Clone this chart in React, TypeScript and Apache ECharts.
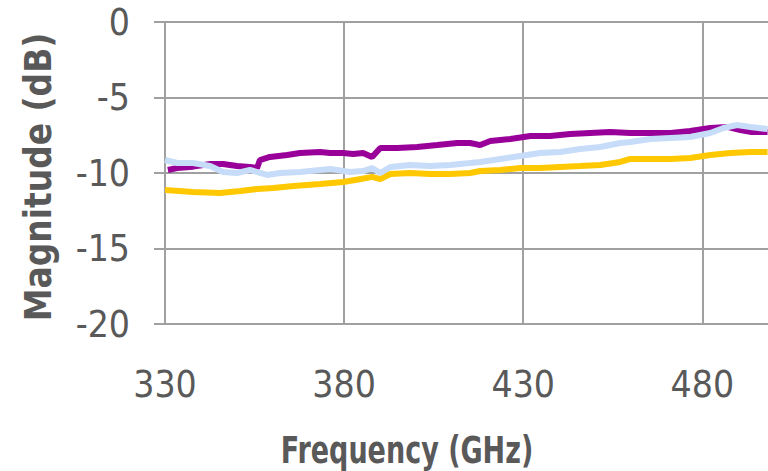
import React, { useEffect, useRef } from "react";
import * as echarts from "echarts";

const xTickLabels = [330, 380, 430, 480];
const yTickLabels = [0, -5, -10, -15, -20];

const purpleFreq = [330.8, 333.4, 337.8, 342.6, 346.2, 350.1, 353.7, 355.7, 356.5, 359.3, 364.1, 367.7, 373.3, 376.1, 379.7, 382.5, 385.3, 387.8, 390.1, 394.8, 400.4, 406.0, 411.6, 415.2, 418.0, 420.8, 426.4, 432.0, 437.5, 443.1, 448.7, 454.3, 459.9, 465.5, 471.1, 476.6, 482.2, 487.0, 490.6, 493.4, 498.2];
const purpleDb = [-9.8, -9.67, -9.58, -9.4, -9.4, -9.54, -9.6, -9.67, -9.14, -8.94, -8.81, -8.68, -8.61, -8.68, -8.68, -8.74, -8.68, -8.94, -8.34, -8.34, -8.28, -8.15, -8.01, -8.01, -8.15, -7.88, -7.75, -7.55, -7.55, -7.42, -7.35, -7.28, -7.35, -7.35, -7.35, -7.22, -7.02, -6.95, -7.15, -7.28, -7.28];

const blueFreq = [330, 333.4, 337.8, 342.6, 346.2, 350.1, 353.7, 358.5, 362.1, 367.7, 373.3, 376.1, 381.7, 385.3, 387.8, 390.1, 392.9, 398.4, 404.0, 409.6, 415.2, 418.0, 423.6, 429.2, 434.7, 440.3, 445.9, 451.5, 457.1, 459.9, 465.5, 471.1, 476.6, 482.2, 485.9, 489.7, 493.4, 498.2];
const blueDb = [-9.14, -9.34, -9.34, -9.54, -9.93, -10.0, -9.8, -10.13, -10.0, -9.93, -9.8, -9.74, -9.93, -9.87, -9.67, -10.0, -9.6, -9.47, -9.54, -9.47, -9.34, -9.27, -9.07, -8.87, -8.68, -8.61, -8.41, -8.28, -8.01, -7.95, -7.75, -7.68, -7.62, -7.35, -7.02, -6.82, -6.95, -7.09];

const yellowFreq = [330, 337.8, 345.4, 351.0, 355.7, 360.2, 365.9, 373.3, 379.7, 384.7, 387.8, 390.1, 392.9, 398.4, 404.0, 409.6, 415.2, 418.0, 423.6, 429.2, 434.7, 440.3, 445.9, 451.5, 457.1, 459.9, 465.5, 471.1, 476.6, 482.2, 487.8, 493.4, 498.2];
const yellowDb = [-11.13, -11.26, -11.32, -11.19, -11.06, -10.99, -10.86, -10.73, -10.6, -10.4, -10.26, -10.4, -10.07, -10.0, -10.07, -10.07, -10.0, -9.87, -9.8, -9.67, -9.67, -9.6, -9.54, -9.47, -9.27, -9.07, -9.07, -9.07, -9.01, -8.81, -8.68, -8.61, -8.61];

const zip = (xs: number[], ys: number[]) => xs.map((x, i) => [x, ys[i]]);

const TEXT = "#595959";
const GRID = "#a0a0a0";
const LABEL_FONT = "'Liberation Sans Narrow', 'DejaVu Sans Condensed', sans-serif";

export default function App() {
  const ref = useRef<HTMLDivElement>(null);
  useEffect(() => {
    document.body.style.margin = "0";
    if (!ref.current) return;
    const chart = echarts.init(ref.current, null, { renderer: "svg" });
    chart.setOption({
      animation: false,
      backgroundColor: "#ffffff",
      grid: { left: 165, top: 22, height: 302, width: 609, containLabel: false, outerBoundsMode: "none" },
      xAxis: {
        type: "value",
        min: 330,
        max: 500,
        interval: 50,
        axisLine: { show: true, lineStyle: { color: GRID, width: 2 } },
        axisTick: { show: true, inside: false, length: 12, lineStyle: { color: GRID, width: 2 } },
        splitLine: { show: true, lineStyle: { color: GRID, width: 2 } },
        axisLabel: {
          margin: 42,
          color: TEXT,
          fontFamily: LABEL_FONT,
          fontSize: 37,
          formatter: (v: number) => (xTickLabels.includes(v) ? String(v) : ""),
        },
      },
      yAxis: {
        type: "value",
        min: -20,
        max: 0,
        interval: 5,
        axisLine: { show: true, lineStyle: { color: GRID, width: 2 } },
        axisTick: { show: true, inside: false, length: 11, lineStyle: { color: GRID, width: 2 } },
        splitLine: { show: true, lineStyle: { color: GRID, width: 2 } },
        axisLabel: {
          margin: 35,
          color: TEXT,
          fontFamily: LABEL_FONT,
          fontSize: 37,
          formatter: (v: number) => (yTickLabels.includes(v) ? String(v) : ""),
        },
      },
      graphic: [
        {
          type: "text",
          x: 38,
          y: 177,
          rotation: Math.PI / 2,
          scaleX: 0.89,
          style: {
            text: "Magnitude (dB)",
            fill: TEXT,
            font: "bold 37px 'DejaVu Sans', sans-serif",
            align: "center",
            verticalAlign: "middle",
          },
        },
        {
          type: "text",
          x: 407,
          y: 450,
          scaleX: 0.73,
          style: {
            text: "Frequency (GHz)",
            fill: TEXT,
            font: "bold 37px 'DejaVu Sans', sans-serif",
            align: "center",
            verticalAlign: "middle",
          },
        },
      ],
      series: [
        {
          type: "line",
          name: "yellow",
          data: zip(yellowFreq, yellowDb),
          showSymbol: false,
          lineStyle: { color: "#ffc800", width: 6 },
          itemStyle: { color: "#ffc800" },
          z: 2,
        },
        {
          type: "line",
          name: "purple",
          data: zip(purpleFreq, purpleDb),
          showSymbol: false,
          lineStyle: { color: "#990099", width: 6 },
          itemStyle: { color: "#990099" },
          z: 3,
        },
        {
          type: "line",
          name: "lightblue",
          data: zip(blueFreq, blueDb),
          showSymbol: false,
          lineStyle: { color: "#c6dcf8", width: 6 },
          itemStyle: { color: "#c6dcf8" },
          z: 4,
        },
      ],
    });
    return () => chart.dispose();
  }, []);
  return <div ref={ref} style={{ width: 768, height: 471 }} />;
}
